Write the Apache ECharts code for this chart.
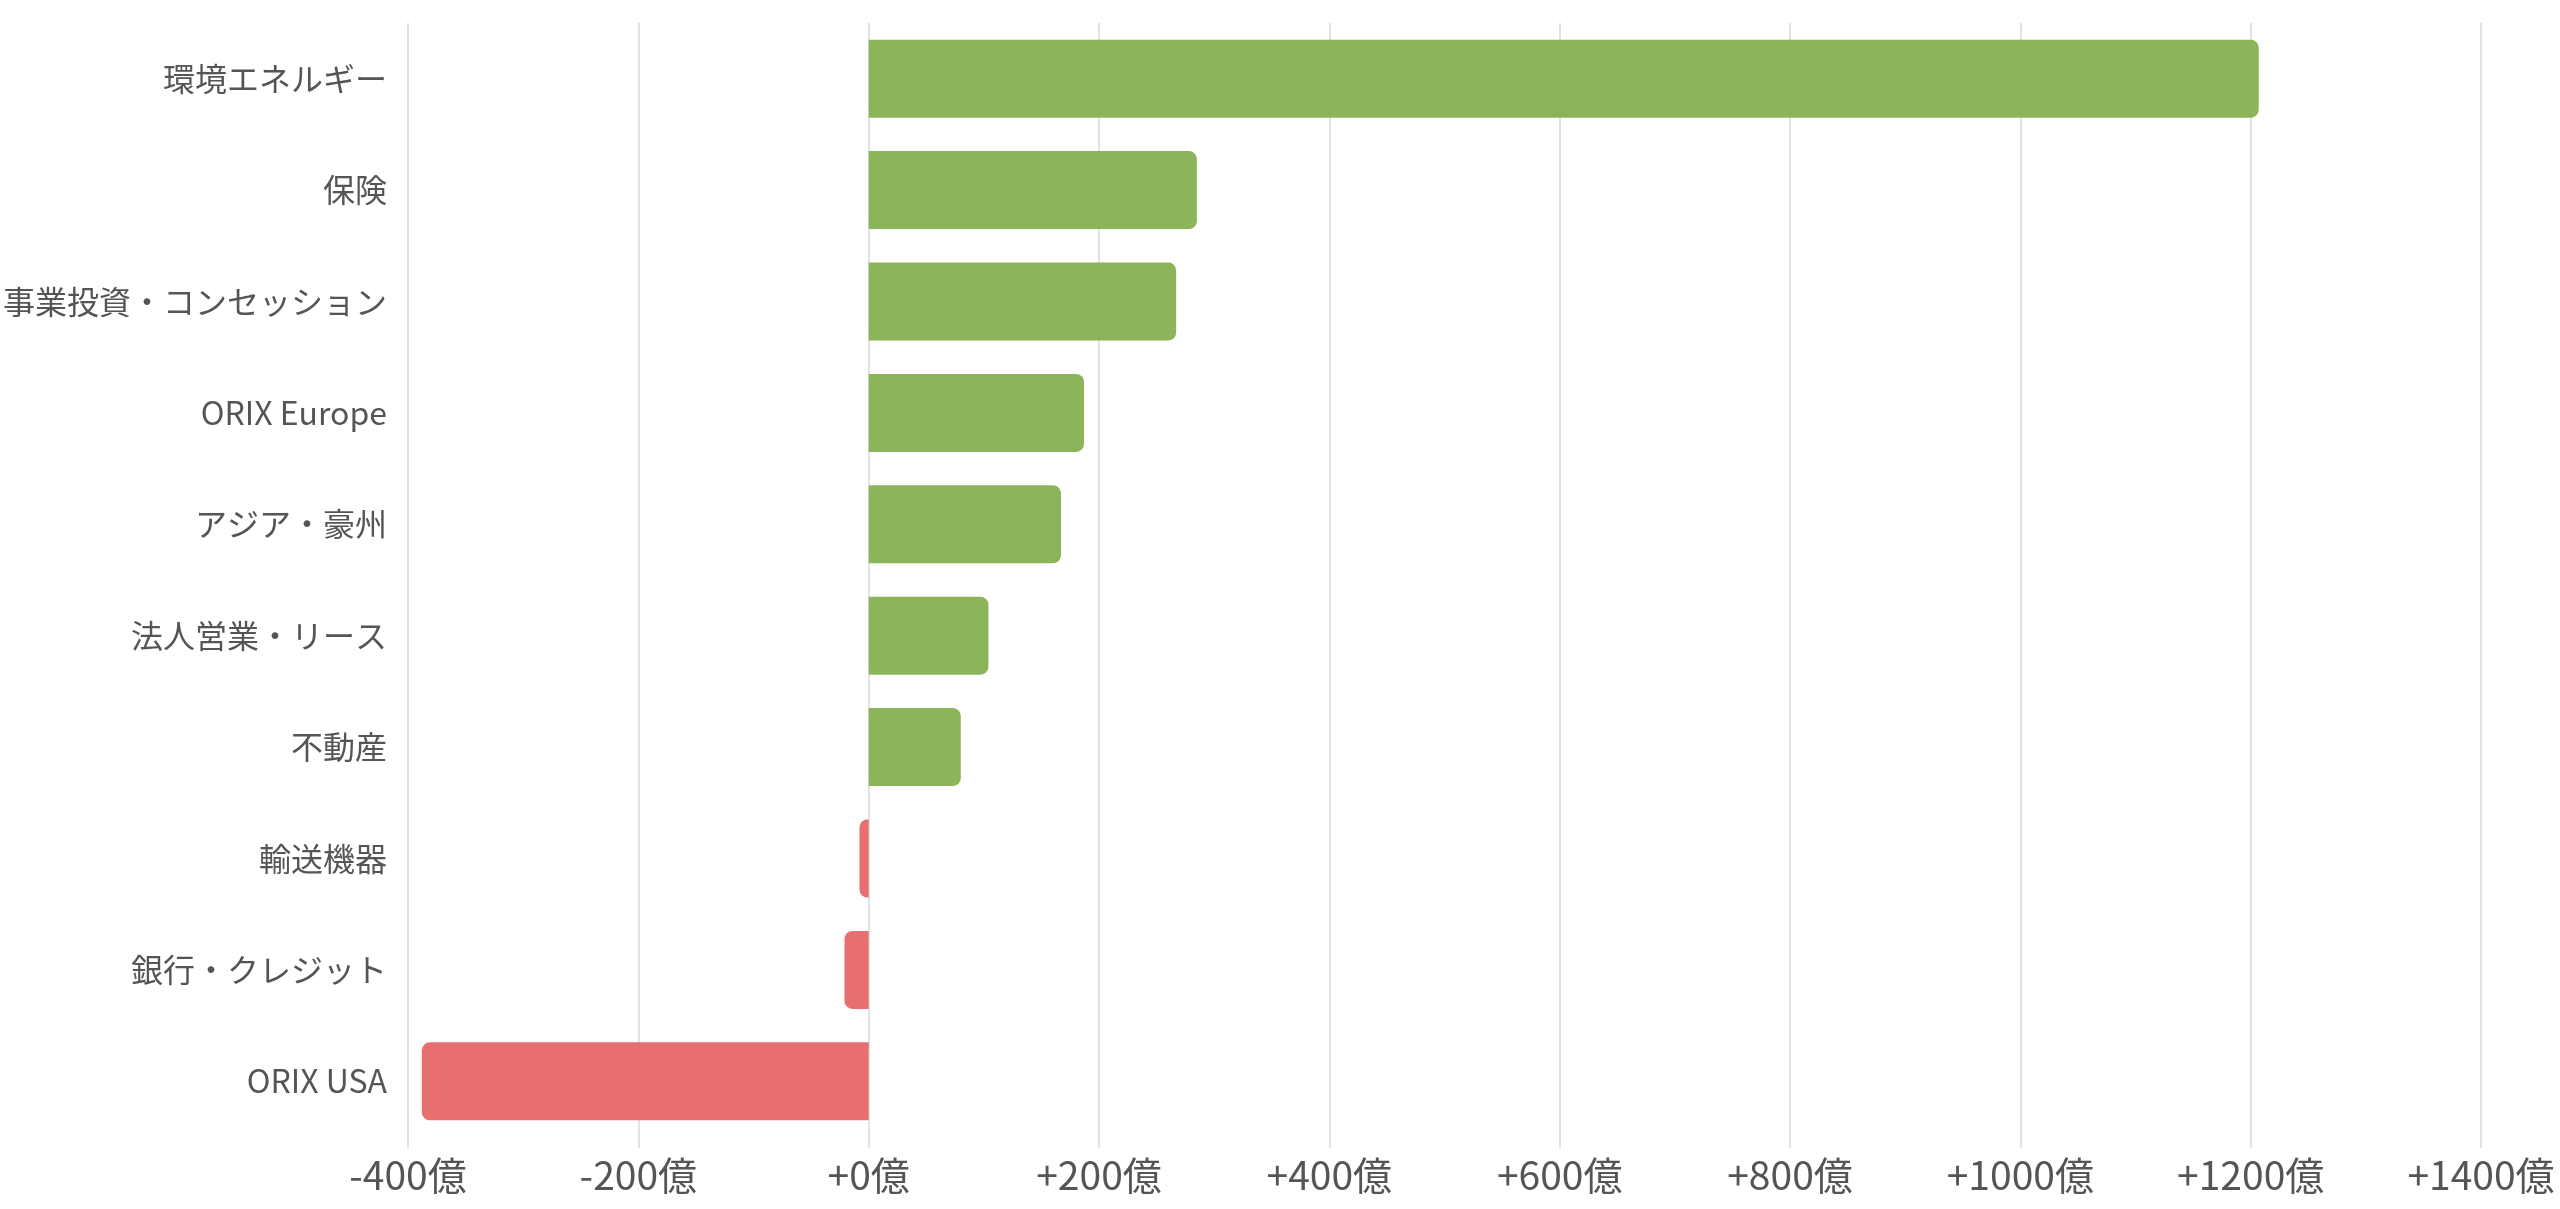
<!DOCTYPE html>
<html>
<head>
<meta charset="utf-8">
<title>セグメント別 増減</title>
<script src="https://cdn.jsdelivr.net/npm/echarts@6/dist/echarts.min.js"></script>
<style>
  html, body { margin: 0; padding: 0; background: #fff; }
  #main { width: 2560px; height: 1209px; }
</style>
</head>
<body>
<div id="main"></div>
<script>
// セグメント名（上から順）
var categories = ['環境エネルギー', '保険', '事業投資・コンセッション', 'ORIX Europe', 'アジア・豪州',
  '法人営業・リース', '不動産', '輸送機器', '銀行・クレジット', 'ORIX USA'];
// 増減額（億円）
var values = [1207, 285, 267, 187, 167, 104, 80, -8, -21, -388];
var axisMin = -400;
var axisMax = 1400;
var axisStep = 200;

var chartDom = document.getElementById('main');
var myChart = echarts.init(chartDom);

var barData = values.map(function (v) {
  return {
    value: v,
    itemStyle: {
      color: v >= 0 ? '#80ac48' : '#e65f5f',
      borderRadius: v >= 0 ? [0, 8, 8, 0] : [8, 0, 0, 8]
    }
  };
});

var option = {
  animation: false,
  textStyle: { fontFamily: '"Noto Sans CJK JP", "Noto Sans", sans-serif' },
  grid: [
    // bars + labels
    { left: 408, right: 79, top: 23, bottom: 72, containLabel: false },
    // grid lines only (run a little below the last bar)
    { left: 408, right: 79, top: 23, bottom: 61, containLabel: false }
  ],
  xAxis: [
    {
      type: 'value',
      gridIndex: 0,
      min: axisMin,
      max: axisMax,
      interval: axisStep,
      axisLine: { show: false },
      axisTick: { show: false },
      splitLine: { show: false },
      axisLabel: {
        fontSize: 39,
        color: '#555',
        margin: 19,
        formatter: function (v) {
          return (v >= 0 ? '+' : '') + v + '億';
        }
      }
    },
    {
      type: 'value',
      gridIndex: 1,
      min: axisMin,
      max: axisMax,
      interval: axisStep,
      axisLine: { show: false },
      axisTick: { show: false },
      axisLabel: { show: false },
      splitLine: { show: true, lineStyle: { color: '#e3e3e3', width: 2 } }
    }
  ],
  yAxis: [
    {
      type: 'category',
      gridIndex: 0,
      data: categories,
      inverse: true,
      axisLine: { show: false },
      axisTick: { show: false },
      splitLine: { show: false },
      axisLabel: { fontSize: 32, color: '#555', margin: 21 }
    },
    {
      type: 'category',
      gridIndex: 1,
      data: categories,
      show: false
    }
  ],
  series: [
    {
      type: 'bar',
      xAxisIndex: 0,
      yAxisIndex: 0,
      data: barData,
      barWidth: '70%',
      itemStyle: { opacity: 0.9 }
    }
  ]
};
myChart.setOption(option);
</script>
</body>
</html>
